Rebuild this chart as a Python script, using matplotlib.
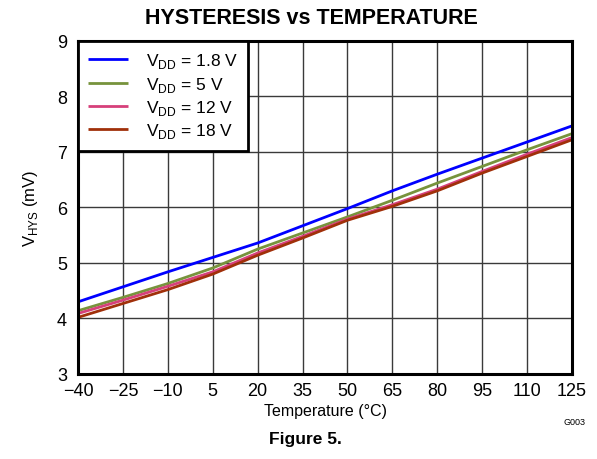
import numpy as np
import matplotlib
matplotlib.use("Agg")
import matplotlib.pyplot as plt

plt.rcParams['font.family'] = ['Liberation Sans', 'DejaVu Sans']

# temperature points (deg C) and hysteresis (mV)
temp = [-40, -25, -10, 5, 20, 35, 50, 65, 80, 95, 110, 125]
v_1p8 = [4.30, 4.57, 4.84, 5.10, 5.36, 5.67, 5.98, 6.30, 6.60, 6.89, 7.18, 7.47]
v_5 = [4.14, 4.38, 4.63, 4.91, 5.25, 5.54, 5.83, 6.13, 6.44, 6.74, 7.04, 7.33]
v_12 = [4.09, 4.33, 4.58, 4.84, 5.18, 5.48, 5.79, 6.05, 6.33, 6.65, 6.96, 7.26]
v_18 = [4.02, 4.27, 4.52, 4.80, 5.14, 5.45, 5.77, 6.02, 6.30, 6.62, 6.92, 7.22]

labels = ['V$_{\\mathregular{DD}}$ = 1.8 V', 'V$_{\\mathregular{DD}}$ = 5 V',
          'V$_{\\mathregular{DD}}$ = 12 V', 'V$_{\\mathregular{DD}}$ = 18 V']
colors = ['#0000FF', '#77933C', '#D6407A', '#A0300A']

fig = plt.figure(figsize=(5.97, 4.60), dpi=100)
ax = fig.add_axes([0.1307, 0.1848, 0.8275, 0.724])

for y, lab, c in zip([v_1p8, v_5, v_12, v_18], labels, colors):
    ax.plot(temp, y, color=c, lw=2.0, label=lab, solid_capstyle='butt')

ax.set_xlim(-40, 125)
ax.set_ylim(3, 9)
ax.set_xticks(temp)
ax.set_xticklabels([str(t).replace('-', '\u2212') for t in temp])
ax.set_yticks(range(3, 10))
ax.tick_params(length=0, labelsize=13)
ax.tick_params(axis='x', pad=6)
ax.tick_params(axis='y', pad=8)
ax.grid(True, color='#3a3a3a', lw=1.0)
ax.set_axisbelow(True)
for s in ax.spines.values():
    s.set_linewidth(2.2)

ax.set_xlabel('Temperature (\u00b0C)', fontsize=11.5, labelpad=3)
ax.set_ylabel('V$_{\\mathregular{HYS}}$ (mV)', fontsize=12, labelpad=12)

leg = ax.legend(loc='upper left', fontsize=12.5, frameon=True, fancybox=False,
                borderaxespad=0, handlelength=2.3, handletextpad=1.0,
                labelspacing=0.25, borderpad=0.6)
leg.get_frame().set_edgecolor('black')
leg.get_frame().set_linewidth(2.0)
leg.get_frame().set_alpha(1)

fig.text(311 / 597, 1 - 18 / 460, 'HYSTERESIS vs TEMPERATURE', ha='center',
         va='center', fontsize=15.5, fontweight='bold')
fig.text(305 / 597, 1 - 440 / 460, 'Figure 5.', ha='center', va='center',
         fontsize=12.5, fontweight='bold')
fig.text(575 / 597, 1 - 423 / 460, 'G003', ha='center', va='center', fontsize=6.5)

fig.savefig('out.png', dpi=100)
